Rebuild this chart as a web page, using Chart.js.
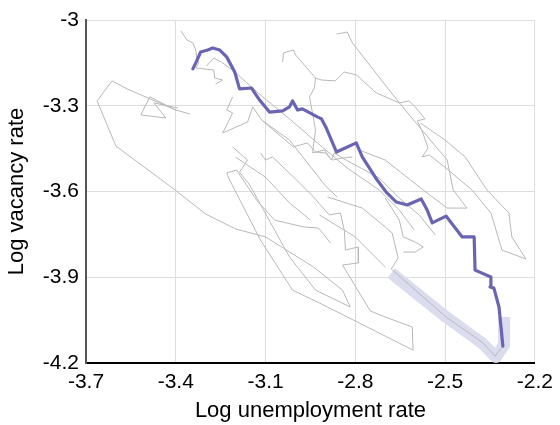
<!DOCTYPE html>
<html><head><meta charset="utf-8">
<script src="https://cdn.jsdelivr.net/npm/chart.js@4"></script>
<style>html,body{margin:0;padding:0;background:#fff}</style>
</head><body>
<canvas id="c" width="560" height="425"></canvas>
<script>
const xTicks = [-3.7, -3.4, -3.1, -2.8, -2.5, -2.2];
const xTickLabels = ['-3.7', '-3.4', '-3.1', '-2.8', '-2.5', '-2.2'];
const yTicks = [-4.2, -3.9, -3.6, -3.3, -3.0];
const yTickLabels = ['-4.2', '-3.9', '-3.6', '-3.3', '-3'];

// Recent period (purple line): log unemployment / log vacancy
const recentU = [-2.307,-2.32,-2.337,-2.35,-2.347,-2.4,-2.403,-2.443,-2.497,-2.543,-2.56,-2.58,-2.627,-2.663,-2.697,-2.727,-2.777,-2.797,-2.863,-2.897,-2.913,-2.927,-2.977,-2.993,-3.01,-3.02,-3.043,-3.087,-3.12,-3.147,-3.187,-3.203,-3.23,-3.253,-3.277,-3.293,-3.317,-3.33,-3.343];
const recentV = [-4.141,-4.004,-3.938,-3.934,-3.899,-3.875,-3.759,-3.759,-3.686,-3.710,-3.665,-3.626,-3.647,-3.637,-3.602,-3.560,-3.479,-3.430,-3.462,-3.378,-3.346,-3.339,-3.311,-3.315,-3.283,-3.304,-3.318,-3.322,-3.280,-3.238,-3.241,-3.182,-3.129,-3.105,-3.098,-3.105,-3.112,-3.143,-3.171];

// Highlighted pandemic onset (light band)
const covidU = [-2.68,-2.497,-2.377,-2.33,-2.303,-2.303];
const covidV = [-3.885,-4.039,-4.13,-4.179,-4.137,-4.039];

// Historical path pieces (grey), [log u, log v]
const hist1 = [[-3.353,-3.329],[-3.4,-3.315],[-3.563,-3.241],[-3.613,-3.213],[-3.663,-3.283],[-3.6,-3.441],[-3.407,-3.591],[-3.3,-3.679],[-3.2,-3.731],[-3.1,-3.759],[-2.94,-3.864],[-2.843,-3.945],[-2.817,-4.004],[-2.933,-3.945],[-3.02,-3.829],[-3.153,-3.577],[-3.187,-3.532],[-3.16,-3.49],[-3.173,-3.479],[-3.21,-3.444]];
const hist2 = [[-3.4,-3.315],[-3.487,-3.269],[-3.517,-3.332],[-3.433,-3.343],[-3.473,-3.29],[-3.393,-3.308]];
const hist3 = [[-3.383,-3.038],[-3.363,-3.07],[-3.343,-3.08],[-3.333,-3.105],[-3.33,-3.133],[-3.323,-3.15],[-3.333,-3.168],[-3.273,-3.175],[-3.27,-3.203],[-3.243,-3.21],[-3.267,-3.224]];
const hist4 = [[-3.297,-3.161],[-3.273,-3.133],[-3.247,-3.147],[-3.203,-3.182],[-3.113,-3.266],[-3.02,-3.346],[-2.927,-3.43],[-2.827,-3.518],[-2.72,-3.595],[-2.653,-3.665],[-2.603,-3.735]];
const hist5 = [[-3.21,-3.269],[-3.23,-3.315],[-3.21,-3.325],[-3.243,-3.395],[-3.16,-3.357],[-3.143,-3.304],[-3.113,-3.35],[-3.007,-3.444],[-2.96,-3.43],[-2.933,-3.462],[-2.9,-3.465],[-2.877,-3.49],[-2.843,-3.483],[-2.81,-3.479]];
const hist6 = [[-3.117,-3.465],[-3.1,-3.49],[-3.077,-3.479],[-3.007,-3.549],[-2.94,-3.619],[-2.887,-3.682],[-2.85,-3.675],[-2.837,-3.735],[-2.833,-3.805],[-2.79,-3.794],[-2.79,-3.85],[-2.843,-3.857],[-2.75,-4.018],[-2.7,-4.039]];
const hist7 = [[-2.7,-4.039],[-2.61,-4.074],[-2.607,-4.155],[-2.7,-4.106],[-2.92,-3.99],[-3.01,-3.945],[-3.117,-3.77],[-3.22,-3.56],[-3.23,-3.535],[-3.197,-3.525],[-3.13,-3.63],[-3.07,-3.7],[-2.973,-3.724],[-2.923,-3.728],[-2.883,-3.78]];
const hist8 = [[-3.043,-3.147],[-3.04,-3.115],[-3.007,-3.105],[-3.0,-3.122],[-2.933,-3.203],[-2.913,-3.21],[-2.867,-3.213],[-2.837,-3.182],[-2.797,-3.192],[-2.73,-3.255],[-2.653,-3.29],[-2.62,-3.283],[-2.6,-3.304],[-2.567,-3.346],[-2.593,-3.353],[-2.577,-3.388],[-2.557,-3.448],[-2.577,-3.479],[-2.553,-3.472]];
const hist9 = [[-2.863,-3.049],[-2.827,-3.042],[-2.81,-3.08],[-2.687,-3.245],[-2.62,-3.332],[-2.493,-3.49],[-2.473,-3.595],[-2.427,-3.658],[-2.493,-3.658],[-2.573,-3.595],[-2.7,-3.49],[-2.787,-3.455]];
const hist10 = [[-2.553,-3.472],[-2.497,-3.518],[-2.41,-3.595],[-2.347,-3.675],[-2.31,-3.805],[-2.23,-3.836],[-2.277,-3.759],[-2.287,-3.675],[-2.36,-3.595],[-2.433,-3.479],[-2.5,-3.42],[-2.583,-3.36]];
const hist11 = [[-2.933,-3.203],[-2.937,-3.238],[-2.953,-3.269],[-2.933,-3.385],[-2.943,-3.465],[-2.903,-3.455],[-2.88,-3.49],[-2.87,-3.465],[-2.843,-3.483],[-2.72,-3.553],[-2.653,-3.623],[-2.587,-3.682],[-2.533,-3.752]];
const hist12 = [[-2.893,-3.619],[-2.777,-3.658],[-2.7,-3.724],[-2.677,-3.745],[-2.657,-3.833],[-2.68,-3.871],[-2.497,-4.039],[-2.373,-4.13],[-2.333,-4.176],[-2.307,-4.141]];
const hist13 = [[-2.7,-3.623],[-2.653,-3.7],[-2.64,-3.759],[-2.6,-3.777],[-2.573,-3.794],[-2.6,-3.812],[-2.64,-3.812]];
const hist14 = [[-2.92,-3.682],[-2.8,-3.759],[-2.7,-3.864]];
const hist15 = [[-3.113,-3.35],[-3.02,-3.42],[-2.96,-3.5],[-2.9,-3.58],[-2.86,-3.62]];
const hist16 = [[-3.2,-3.48],[-3.1,-3.55],[-3.02,-3.64],[-2.95,-3.7]];

const histPieces = [hist1,hist2,hist3,hist4,hist5,hist6,hist7,hist8,hist9,hist10,hist11,hist12,hist13,hist14,hist15,hist16];

const FONT = "'Liberation Sans', Arial, sans-serif";
const datasets = [];
datasets.push({
  data: recentU.map((u,i)=>({x:u, y:recentV[i]})),
  borderColor: 'rgb(106,101,178)', borderWidth: 3.2, showLine: true, pointRadius: 0,
  borderJoinStyle: 'round', borderCapStyle: 'round', order: 0
});
histPieces.forEach(p => datasets.push({
  data: p.map(d=>({x:d[0], y:d[1]})),
  borderColor: '#b8b8b8', borderWidth: 1, showLine: true, pointRadius: 0,
  borderJoinStyle: 'round', order: 1
}));
datasets.push({
  data: covidU.map((u,i)=>({x:u, y:covidV[i]})),
  borderColor: '#dcdcef', borderWidth: 12, showLine: true, pointRadius: 0,
  borderJoinStyle: 'round', borderCapStyle: 'butt', order: 2
});

new Chart(document.getElementById('c'), {
  type: 'scatter',
  data: { datasets },
  options: {
    responsive: false, animation: false,
    layout: { padding: { top: 20, right: 24, left: 0, bottom: 0 } },
    plugins: { legend: { display: false }, tooltip: { enabled: false } },
    scales: {
      x: {
        type: 'linear', min: -3.7, max: -2.2,
        afterBuildTicks: s => { s.ticks = xTicks.map(v => ({ value: v })); },
        afterFit: s => { s.height = 62; },
        ticks: { callback: (v, i) => xTickLabels[i], font: { family: FONT, size: 21 }, color: '#000', padding: 7, maxRotation: 0, autoSkip: false },
        grid: { color: '#dddddd', drawTicks: false, lineWidth: 1 },
        border: { color: '#000', width: 2 },
        title: { display: true, text: 'Log unemployment rate', font: { family: FONT, size: 22 }, color: '#000', padding: { top: 0, bottom: 1 } }
      },
      y: {
        type: 'linear', min: -4.2, max: -3.0,
        afterBuildTicks: s => { s.ticks = yTicks.map(v => ({ value: v })); },
        afterFit: s => { s.width = 86; },
        ticks: { callback: (v, i) => yTickLabels[i], font: { family: FONT, size: 21 }, color: '#000', padding: 7, autoSkip: false },
        grid: { color: '#dddddd', drawTicks: false, lineWidth: 1 },
        border: { color: '#555', width: 2 },
        title: { display: true, text: 'Log vacancy rate', font: { family: FONT, size: 22 }, color: '#000', padding: { top: 4, bottom: 0 } }
      }
    }
  }
});
</script>
</body></html>
